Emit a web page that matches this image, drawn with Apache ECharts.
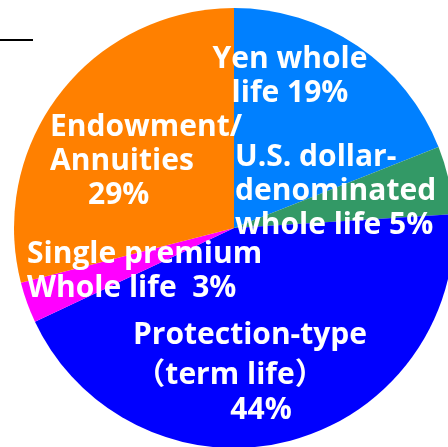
<!DOCTYPE html>
<html>
<head>
<meta charset="utf-8">
<script src="https://cdn.jsdelivr.net/npm/echarts@6/dist/echarts.min.js"></script>
<style>
  html, body { margin: 0; padding: 0; background: #fff; }
  #pie_basic { width: 448px; height: 447px; }
</style>
</head>
<body>
<div id="pie_basic"></div>
<script>
// Data
var categories = ['Yen whole life', 'U.S. dollar-denominated whole life', 'Protection-type (term life)', 'Single premium Whole life', 'Endowment/Annuities'];
var shares = [19, 5, 44, 3, 29];
var labelTexts = [
    'Yen whole\nlife 19%',
    'U.S. dollar-\ndenominated\nwhole life 5%',
    '{top|Protection-type}\n{mid|（term life）}\n{pct|44%}',
    'Single premium\nWhole life  3%',
    'Endowment/\nAnnuities\n{ind|29%}'
];
var sliceColors = ['#0080ff', '#339966', '#0000ff', '#ff00ff', '#ff8000'];

// Label anchors (layout only)
var labelSpots = [
    { x: 290, y: 76, align: 'center' },
    { x: 235, y: 191, align: 'left' },
    { x: 250, y: 370, align: 'center' },
    { x: 27, y: 271, align: 'left' },
    { x: 50, y: 161, align: 'left' }
];

var pie_basic_element = document.getElementById('pie_basic');
var pie_basic = echarts.init(pie_basic_element);

var whiteBold = { color: '#fff', fontSize: 30, fontWeight: 'bold' };

pie_basic.setOption({
    animation: false,
    color: sliceColors,
    textStyle: {
        fontFamily: '"Open Sans", "Noto Sans CJK JP", sans-serif'
    },
    graphic: [
        { type: 'line', shape: { x1: 0, y1: 40, x2: 33, y2: 40 }, style: { stroke: '#000', lineWidth: 2 } },
        { type: 'text', x: -9, y: 2, style: { text: ')', fontSize: 26, fill: '#333', fontFamily: 'DejaVu Sans' } }
    ],
    series: [{
        name: 'share',
        type: 'pie',
        radius: 220,
        center: [234, 228],
        startAngle: 90,
        clockwise: true,
        silent: true,
        label: {
            show: true,
            position: 'inside',
            color: '#fff',
            fontSize: 30,
            fontWeight: 'bold',
            lineHeight: 34,
            formatter: function (p) { return labelTexts[p.dataIndex]; },
            rich: {
                top: Object.assign({ lineHeight: 44 }, whiteBold),
                mid: Object.assign({ lineHeight: 36, padding: [0, 40, 0, 0] }, whiteBold),
                pct: Object.assign({ lineHeight: 34, padding: [0, 0, 0, 22] }, whiteBold),
                ind: Object.assign({ lineHeight: 34, padding: [0, 0, 0, 38] }, whiteBold)
            }
        },
        labelLine: { show: false },
        labelLayout: function (params) {
            var s = labelSpots[params.dataIndex];
            return { x: s.x, y: s.y, align: s.align, verticalAlign: 'middle' };
        },
        data: categories.map(function (name, i) {
            return { name: name, value: shares[i] };
        })
    }]
});
</script>
</body>
</html>
